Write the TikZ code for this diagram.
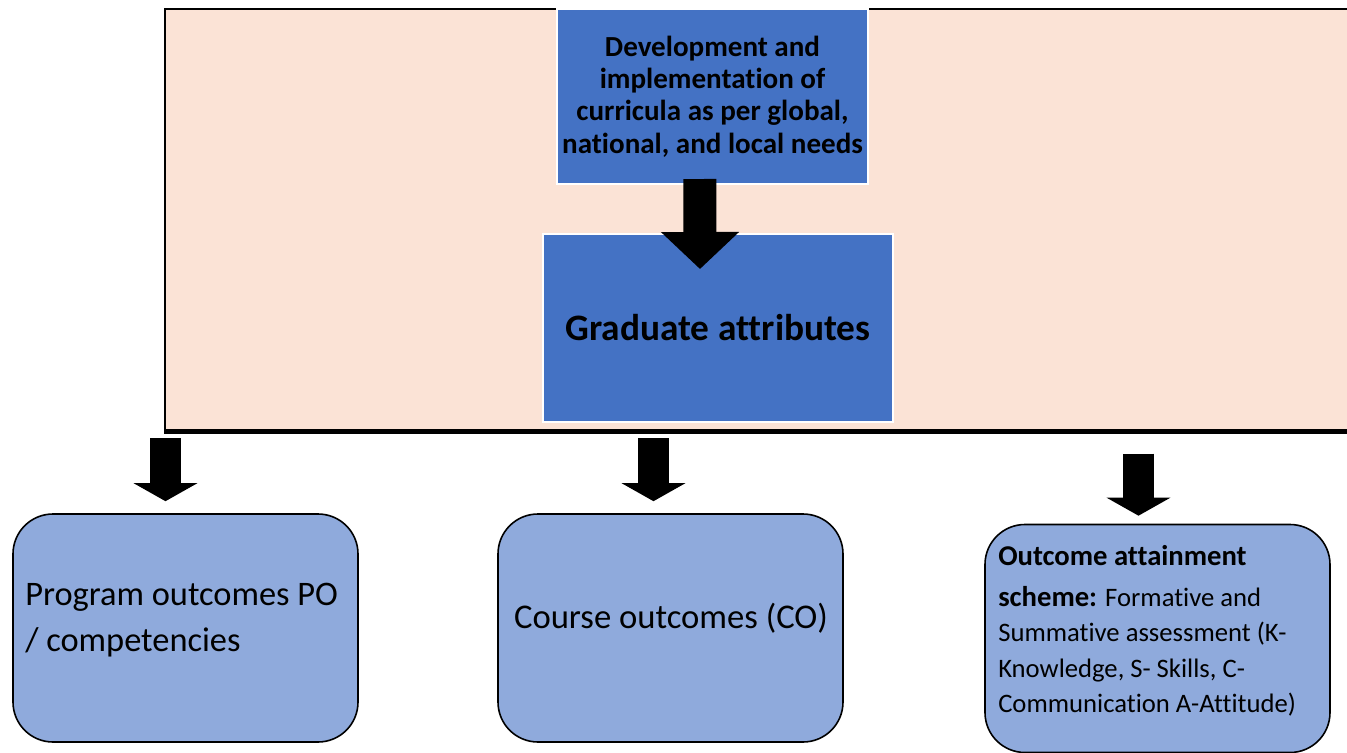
\documentclass[tikz,border=0pt]{standalone}
\usepackage{fontspec}
\setmainfont{Carlito}[Ligatures=NoCommon]
\usetikzlibrary{arrows.meta}
\definecolor{peach}{HTML}{FBE3D6}
\definecolor{darkblue}{HTML}{4472C4}
\definecolor{lightblue}{HTML}{8FAADC}
\begin{document}
\begin{tikzpicture}[x=0.75pt,y=-0.75pt,
  topbox/.style={fill=darkblue,draw=white,line width=1.5pt,inner sep=0pt,align=center},
  outbox/.style={fill=lightblue,draw=black,line width=1.2pt,rounded corners=30pt,minimum width=258.75pt,minimum height=171pt},
  outtext/.style={align=left,anchor=west,inner sep=0pt},
  bigarrow/.style={line width=24.75pt,-{Triangle[width=57pt,length=27.75pt]}},
  smallarrow/.style={line width=23.25pt,-{Triangle[width=47.25pt,length=13.5pt]}}]
\useasboundingbox (0,0) rectangle (1347,753);
\fill[peach] (165,9) rectangle (1347,431);
\draw[line width=1.5pt] (1347,9) -- (165,9) -- (165,431);
\draw[line width=3.75pt] (164,431) -- (1347,431);
\node[topbox,minimum width=233.25pt,minimum height=131.25pt,font=\bfseries\fontsize{21.8}{24.2}\selectfont] (devel) at (712.5,96.5) {Development and\\implementation of\\curricula as per global,\\national, and local needs};
\node[topbox,minimum width=262.5pt,minimum height=141pt,font=\bfseries\fontsize{28}{32}\selectfont] (grad) at (718,328) {Graduate attributes};
\draw[bigarrow] ([xshift=-9.4pt,yshift=4.5pt]devel.south) -- ([xshift=-13.5pt,yshift=-27pt]grad.north);
\node[outbox] (po) at (185.5,628) {};
\node[outtext,font=\fontsize{25.8}{34}\selectfont] (potext) at (25,620) {Program outcomes PO\\/ competencies};
\node[outbox] (co) at (670.5,628) {};
\node[font=\fontsize{26}{34}\selectfont,inner sep=0pt] (cotext) at (671,618) {Course outcomes (CO)};
\node[outbox] (oas) at (1157.5,638.5) {};
\node[outtext,font=\fontsize{20}{26.6}\selectfont] (oastext) at (998,631) {{\bfseries\fontsize{21.5}{26.6}\selectfont Outcome attainment}\\[4pt]{\bfseries\fontsize{21.5}{26.6}\selectfont scheme:} Formative and\\Summative assessment (K-\\Knowledge, S- Skills, C-\\Communication A-Attitude)};
\draw[smallarrow] ([xshift=-15pt,yshift=56.25pt]po.north) -- ([xshift=-15pt,yshift=9pt]po.north);
\draw[smallarrow] ([xshift=-12.75pt,yshift=56.25pt]co.north) -- ([xshift=-12.75pt,yshift=9pt]co.north);
\draw[smallarrow] ([xshift=-14.25pt,yshift=52.5pt]oas.north) -- ([xshift=-14.25pt,yshift=6pt]oas.north);
\end{tikzpicture}
\end{document}
